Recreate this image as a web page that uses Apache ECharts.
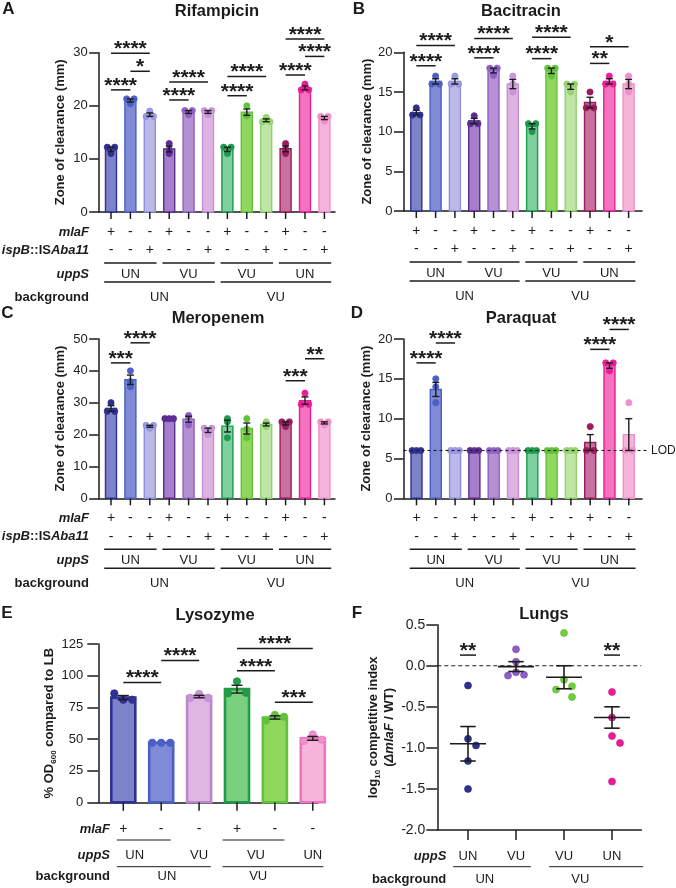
<!DOCTYPE html>
<html><head><meta charset="utf-8">
<script src="https://cdn.jsdelivr.net/npm/echarts@6/dist/echarts.min.js"></script>
<style>html,body{margin:0;padding:0;background:#fff}#c{width:676px;height:888px}</style>
</head><body><div id="c"></div>
<script>
// ================= DATA =================
const mlaFRow = ['+','-','-','+','-','-','+','-','-','+','-','-'];
const ispBRow = ['-','-','+','-','-','+','-','-','+','-','-','+'];
const uppSRow = ['UN','VU','VU','UN'];
const backgroundRow = ['UN','VU'];

const rifampicinTicks = [0,10,20,30];
const rifampicinDots = [[12.2,12.2,11],[21.3,21.3,20.4],[19,18,18],[12.9,11.7,11],[19.1,19.1,18.3],[19.1,19.1,18.3],
  [12.2,12.2,11],[20,18.3,18.1],[17.8,17,17],[12.9,11.8,11],[24.1,23,23],[18,18,17.1]];
const rifampicinSig = [[0,1,23.0,'****'],[0,2,29.9,'****'],[1,2,26.5,'*'],[3,4,21.1,'****'],[3,5,24.5,'****'],
  [6,7,21.9,'****'],[6,8,25.5,'****'],[9,10,25.8,'****'],[9,11,32.6,'****'],[10,11,29.3,'****']];

const bacitracinTicks = [0,5,10,15,20];
const bacitracinDots = [[13,12.1,12.1],[17,16,16],[17,16,16],[12,11,11],[18,18,17.1],[17,16,15],
  [11,11,10],[18,18,17],[16,16,15],[15,13,13],[17,16,16],[17,16,15]];
const bacitracinSig = [[0,1,18.3,'****'],[0,2,20.85,'****'],[3,4,19.3,'****'],[3,5,21.75,'****'],
  [6,7,19.2,'****'],[6,8,21.9,'****'],[9,10,18.6,'**'],[9,11,20.7,'*']];

const meropenemTicks = [0,10,20,30,40,50];
const meropenemDots = [[30,27.3,27.3],[40,36.6,35],[22.9,22.9,22],[25,25,25],[26,25.5,23],[22,22,20],
  [25,24,19],[25,21.7,19],[24,23,22.5],[24,24,22.5],[33,29.5,29.5],[24,24,23]];
const meropenemSig = [[0,1,42.5,'***'],[1,2,48.8,'****'],[9,10,36.9,'***'],[10,11,43.8,'**']];

const paraquatTicks = [0,5,10,15,20];
const paraquatDots = [[6,6,6],[15,14,12],[6,6,6],[6,6,6],[6,6,6],[6,6,6],
  [6,6,6],[6,6,6],[6,6,6],[9,6,6],[17,17,16],[12,6,6]];
const paraquatSig = [[0,1,17.0,'****'],[1,2,19.5,'****'],[9,10,18.7,'****'],[10,11,21.2,'****']];
const paraquatLOD = 6;

const lysozymeTicks = [0,25,50,75,100,125];
const lysozymeMlaF = ['+','-','-','+','-','-'];
const lysozymeUppS = ['UN','VU','VU','UN'];
const lysozymeBackground = ['UN','VU'];
const lysozymeDots = [[86,81,81],[47,47,47],[82.5,85.5,82.5],[86,95.5,86.5],[64.5,69,67.5],[48.5,53.5,49.5]];
const lysozymeSig = [[0,1,94.6,'****'],[1,2,112,'****'],[3,4,103.8,'****'],[3,5,121.4,'****'],[4,5,79.1,'***']];

const lungsTicks = [-2.0,-1.5,-1.0,-0.5,0.0,0.5];
const lungsUppS = ['UN','VU','VU','UN'];
const lungsBackground = ['UN','VU'];
const lungsDots = [[-0.24,-0.89,-0.97,-1.16,-1.50],[0.20,0.05,-0.08,-0.11,-0.12],
  [0.40,-0.17,-0.25,-0.29,-0.38],[-0.32,-0.63,-0.855,-0.94,-1.41]];
const lungsMean = [-0.95,-0.01,-0.14,-0.63];
const lungsSem = [0.21,0.06,0.14,0.13];
const lungsSig = [[0,0.13,'**'],[3,0.13,'**']];
const lungsBaseline = 0;

// ================= STYLE / LAYOUT =================
const FONT = '"Liberation Sans", Arial, Helvetica, sans-serif';
const INK = '#1c1c1c';
const PAL12 = [
  ['#7d83c9','#2e3192','#2e3192'],['#7f8bd6','#4b5fc4','#4b5fc4'],['#bcb9e8','#8e8fdc','#9d9be3'],
  ['#a67ecb','#5b2c91','#5b2c91'],['#b591d4','#8f5fc6','#8f5fc6'],['#ddb4e1','#c38fd6','#ca96dc'],
  ['#7fd09f','#1d9a4e','#1d9a4e'],['#8fd75d','#62c23a','#62c23a'],['#c0e6a6','#8fd26b','#96d672'],
  ['#c8719f','#9b1c5e','#9b1c5e'],['#f573be','#ec1c99','#ec1c99'],['#f6b4da','#ef8fcb','#ef8fcb']];
const PAL6 = [['#7d83c9','#2e3192','#2e3192'],['#7f8bd6','#4b5fc4','#4b5fc4'],['#dfb6e2','#b887cc','#c994dc'],
  ['#79d07f','#229a49','#229a49'],['#8fd75d','#62c23a','#62c23a'],['#f6b4da','#ec74c0','#ef8fcb']];
const PALF = [['#2e3192','#232577'],['#8f5fc6','#7447a8'],['#6fcf3c','#55b328'],['#ec1c99','#c9117f']];

const LAY = [
  {axisX:98.7, c0:111,   sp:19.4, endX:335,   yTop:52.7, yBot:212,   barW:11, bw:1.4, dotR:3.1, cap:3.5, tickLen:9.5, margin:11, nameGap:32, fs:13},
  {axisX:403.5,c0:416.3, sp:19.3, endX:642,   yTop:52.3, yBot:211,   barW:11, bw:1.4, dotR:3.1, cap:3.5, tickLen:9.5, margin:11, nameGap:30, fs:13},
  {axisX:98.7, c0:111,   sp:19.4, endX:335,   yTop:339,  yBot:498.3, barW:11, bw:1.4, dotR:3.1, cap:3.5, tickLen:9.5, margin:11, nameGap:32, fs:13},
  {axisX:403.5,c0:416.5, sp:19.3, endX:642,   yTop:339,  yBot:498.3, barW:11, bw:1.4, dotR:3.1, cap:3.5, tickLen:9.5, margin:11, nameGap:31, fs:13},
  {axisX:98.3, c0:123.3, sp:37.9, endX:318,   yTop:644,  yBot:802.3, barW:24, bw:2.6, dotR:3.7, cap:5.5, tickLen:11,  margin:15, nameGap:41, fs:13},
  {axisX:437.3,c0:468,   sp:48,   endX:641.3, yTop:624.7,yBot:830,   barW:0,  bw:0,   dotR:3.5, cap:7.7, tickLen:11,  margin:12, nameGap:40, fs:14}
];

const mean = a => a.reduce((s,v)=>s+v,0)/a.length;
const sem = a => { const m=mean(a); return Math.sqrt(a.reduce((s,v)=>s+(v-m)*(v-m),0)/(a.length-1))/Math.sqrt(a.length); };

const ln=(x1,y1,x2,y2,w,dash)=>({type:'line',shape:{x1,y1,x2,y2},style:{stroke:INK,lineWidth:w||1.4,lineDash:dash||null}});
const tx=(text,x,y,size,weight,align)=>({type:'text',style:{text,x,y,align:align||'center',verticalAlign:'middle',
  fontSize:size,fontWeight:weight||'normal',fontFamily:FONT,fill:INK}});

function clusterOffsets(vals, spacing, pair){
  const off=vals.map(()=>0), used=vals.map(()=>false);
  for(let i=0;i<vals.length;i++){ if(used[i]) continue; const g=[i]; used[i]=true;
    for(let j=i+1;j<vals.length;j++) if(!used[j] && Math.abs(vals[j]-vals[i])<1e-6){g.push(j);used[j]=true;}
    const n=g.length; g.forEach((id,q)=>{ off[id]= n===1?0:(n===2?(q===0?-pair:pair):(q-(n-1)/2)*spacing); });
  }
  return off;
}
const rowOffsets=(vals,spacing)=>vals.map((v,q)=>(q-(vals.length-1)/2)*spacing);
function zigzagOffsets(vals, ppu, minGap, w){
  const idx=vals.map((v,i)=>i).sort((a,b)=>vals[b]-vals[a]); const off=vals.map(()=>0); let prev=null;
  idx.forEach(i=>{ if(prev!==null && (vals[prev]-vals[i])*ppu<minGap) off[i]=off[prev]<=0?w:-w; else off[i]=0; prev=i; });
  return off;
}

const grids=[], xAxes=[], yAxes=[], series=[], graphics=[];

function addAxes(pi, ticks, name, rich){
  const L=LAY[pi];
  grids.push({left:L.axisX, top:L.yTop, width:L.endX-L.axisX, height:L.yBot-L.yTop});
  xAxes.push({type:'value', gridIndex:pi, min:(L.axisX-L.c0)/L.sp, max:(L.endX-L.c0)/L.sp,
    axisLine:{show:true,onZero:false,lineStyle:{color:INK,width:1.5}}, axisTick:{show:false}, axisLabel:{show:false}, splitLine:{show:false}});
  yAxes.push({type:'value', gridIndex:pi, min:ticks[0], max:ticks[ticks.length-1], interval:ticks[1]-ticks[0],
    axisLine:{show:true,onZero:false,lineStyle:{color:INK,width:1.5}},
    axisTick:{show:true,length:L.tickLen,lineStyle:{color:INK,width:1.5}},
    axisLabel:{fontSize:L.fs,color:'#222',fontFamily:FONT,margin:L.margin,
      formatter: pi===5 ? (v=>v.toFixed(1)) : (v=>String(v))},
    splitLine:{show:false},
    name:name, nameLocation:'middle', nameGap:L.nameGap,
    nameTextStyle:{fontFamily:FONT,fontSize:13,fontWeight:'bold',color:INK,rich:rich||{}}});
}

function barPanel(pi, dots, pal, sig, offsFn){
  const L=LAY[pi]; const base=0;
  const means=dots.map(mean), sems=dots.map(sem);
  series.push({type:'custom', xAxisIndex:pi, yAxisIndex:pi, clip:false, silent:true, z:2,
    data:means.map((m,k)=>[k,m]),
    renderItem:(p,api)=>{ const k=api.value(0), m=api.value(1); const b=api.coord([k,base]), t=api.coord([k,m]);
      return {type:'rect', shape:{x:b[0]-L.barW/2, y:t[1], width:L.barW, height:b[1]-t[1]},
        style:{fill:pal[k][0], stroke:pal[k][1], lineWidth:L.bw}}; }});
  const dd=[];
  dots.forEach((arr,k)=>{ const off=offsFn(arr); arr.forEach((v,q)=>dd.push([k,v,off[q]])); });
  series.push({type:'custom', xAxisIndex:pi, yAxisIndex:pi, clip:false, silent:true, z:3, data:dd,
    renderItem:(p,api)=>{ const k=api.value(0); const c=api.coord([k,api.value(1)]);
      return {type:'circle', shape:{cx:c[0]+api.value(2), cy:c[1], r:L.dotR},
        style:{fill:pal[k][2], stroke:pal[k][1], lineWidth:0.8}}; }});
  series.push({type:'custom', xAxisIndex:pi, yAxisIndex:pi, clip:false, silent:true, z:4,
    data:means.map((m,k)=>[k,m,sems[k]]),
    renderItem:(p,api)=>{ const k=api.value(0), m=api.value(1), s=api.value(2);
      if(!(s>1e-9)) return {type:'group',children:[]};
      const t=api.coord([k,m+s]), b=api.coord([k,m-s]);
      return {type:'group', children:[ln(t[0],t[1],b[0],b[1],1.4), ln(t[0]-L.cap,t[1],t[0]+L.cap,t[1],1.4), ln(b[0]-L.cap,b[1],b[0]+L.cap,b[1],1.4)]}; }});
  series.push({type:'custom', xAxisIndex:pi, yAxisIndex:pi, clip:false, silent:true, z:5,
    data:sig.map(s=>[s[0],s[1],s[2]]),
    renderItem:(p,api)=>{ const a=api.coord([api.value(0),api.value(2)]), b=api.coord([api.value(1),api.value(2)]);
      return {type:'group', children:[ln(a[0],a[1],b[0],a[1],1.5), tx(sig[p.dataIndex][3],(a[0]+b[0])/2,a[1]-4,21,'bold')]}; }});
}

function annot12(pi){
  series.push({type:'custom', xAxisIndex:pi, yAxisIndex:pi, clip:false, silent:true, z:5, data:[[0,0]],
    renderItem:(p,api)=>{ const X=k=>api.coord([k,0])[0]; const Y=api.coord([0,0])[1]; const ch=[];
      for(let k=0;k<12;k++){ ch.push(ln(X(k),Y,X(k),Y+7,1.5)); ch.push(tx(mlaFRow[k],X(k),Y+20,14)); ch.push(tx(ispBRow[k],X(k),Y+38.5,14)); }
      uppSRow.forEach((t,g)=>{ ch.push(ln(X(3*g-0.35),Y+51,X(3*g+2.35),Y+51,1.5)); ch.push(tx(t,X(3*g+1),Y+62,13)); });
      backgroundRow.forEach((t,h)=>{ ch.push(ln(X(6*h-0.35),Y+70,X(6*h+5.35),Y+70,1.5)); ch.push(tx(t,X(6*h+2.5),Y+85.5,13)); });
      return {type:'group', children:ch}; }});
}

const zoneName='Zone of clearance (mm)';
// A
addAxes(0, rifampicinTicks, zoneName);
barPanel(0, rifampicinDots, PAL12, rifampicinSig, v=>clusterOffsets(v,4.3,3.7));
annot12(0);
// B
addAxes(1, bacitracinTicks, zoneName);
barPanel(1, bacitracinDots, PAL12, bacitracinSig, v=>clusterOffsets(v,4.3,3.7));
annot12(1);
// C
addAxes(2, meropenemTicks, zoneName);
barPanel(2, meropenemDots, PAL12, meropenemSig, v=>clusterOffsets(v,4.3,3.7));
annot12(2);
// D
addAxes(3, paraquatTicks, zoneName);
barPanel(3, paraquatDots, PAL12, paraquatSig, v=>clusterOffsets(v,4.3,3.7));
annot12(3);
series.push({type:'custom', xAxisIndex:3, yAxisIndex:3, clip:false, silent:true, z:4, data:[[0,paraquatLOD]],
  renderItem:(p,api)=>{ const a=api.coord([xAxes[3].min,api.value(1)]), b=api.coord([xAxes[3].max,api.value(1)]);
    return {type:'group', children:[ln(a[0],a[1],b[0]+6,a[1],1.1,[3,3]), tx('LOD',b[0]+9,a[1],12,'normal','left')]}; }});

// E
addAxes(4, lysozymeTicks, '{b|% OD}{s|600}{b| compared to LB}', {
  b:{fontFamily:FONT,fontSize:13,fontWeight:'bold',color:INK,lineHeight:16},
  s:{fontFamily:FONT,fontSize:8,fontWeight:'bold',color:INK,lineHeight:8,verticalAlign:'bottom'}});
barPanel(4, lysozymeDots, PAL6, lysozymeSig, v=>rowOffsets(v,9));
series.push({type:'custom', xAxisIndex:4, yAxisIndex:4, clip:false, silent:true, z:5, data:[[0,0]],
  renderItem:(p,api)=>{ const X=k=>api.coord([k,0])[0]; const Y=api.coord([0,0])[1]; const ch=[];
    const uppPos=[0.3,2,3.5,5], bgPos=[1.15,3.56], mlaSpan=[[-0.17,1.25],[2.62,4.25]], bgSpan=[[-0.17,2.31],[2.62,5.28]];
    lysozymeMlaF.forEach((t,k)=>{ ch.push(ln(X(k),Y,X(k),Y+8.5,1.5)); ch.push(tx(t,X(k),Y+27,14)); });
    mlaSpan.forEach(s=>ch.push(ln(X(s[0]),Y+37.7,X(s[1]),Y+37.7,1)));
    lysozymeUppS.forEach((t,g)=>ch.push(tx(t,X(uppPos[g]),Y+52.7,13)));
    bgSpan.forEach(s=>ch.push(ln(X(s[0]),Y+64.4,X(s[1]),Y+64.4,1)));
    lysozymeBackground.forEach((t,h)=>ch.push(tx(t,X(bgPos[h]),Y+74.4,13)));
    return {type:'group', children:ch}; }});

// F
addAxes(5, lungsTicks, '{b|log}{s|10}{b| competitive index}\n{b|(}{bi|ΔmlaF}{b| / WT)}', {
  b:{fontFamily:FONT,fontSize:13,fontWeight:'bold',color:INK,lineHeight:16},
  bi:{fontFamily:FONT,fontSize:13,fontWeight:'bold',fontStyle:'italic',color:INK,lineHeight:16},
  s:{fontFamily:FONT,fontSize:8,fontWeight:'bold',color:INK,lineHeight:8,verticalAlign:'bottom'}});
(function(){
  const L=LAY[5]; const ppu=(L.yBot-L.yTop)/(lungsTicks[lungsTicks.length-1]-lungsTicks[0]);
  series.push({type:'custom', xAxisIndex:5, yAxisIndex:5, clip:false, silent:true, z:2, data:[[0,lungsBaseline]],
    renderItem:(p,api)=>{ const a=api.coord([xAxes[5].min,api.value(1)]), b=api.coord([xAxes[5].max,api.value(1)]);
      return ln(a[0],a[1],b[0],b[1],1.1,[4,3]); }});
  const dd=[];
  lungsDots.forEach((arr,k)=>{ const off=zigzagOffsets(arr,ppu,7.5,8); arr.forEach((v,q)=>dd.push([k,v,off[q]])); });
  series.push({type:'custom', xAxisIndex:5, yAxisIndex:5, clip:false, silent:true, z:3, data:dd,
    renderItem:(p,api)=>{ const k=api.value(0); const c=api.coord([k,api.value(1)]);
      return {type:'circle', shape:{cx:c[0]+api.value(2), cy:c[1], r:L.dotR}, style:{fill:PALF[k][0], stroke:PALF[k][1], lineWidth:0.6}}; }});
  series.push({type:'custom', xAxisIndex:5, yAxisIndex:5, clip:false, silent:true, z:4,
    data:lungsMean.map((m,k)=>[k,m,lungsSem[k]]),
    renderItem:(p,api)=>{ const k=api.value(0), m=api.value(1), s=api.value(2);
      const c=api.coord([k,m]), t=api.coord([k,m+s]), b=api.coord([k,m-s]);
      return {type:'group', children:[ln(c[0]-18,c[1],c[0]+18,c[1],1.6), ln(t[0],t[1],b[0],b[1],1.6),
        ln(t[0]-L.cap,t[1],t[0]+L.cap,t[1],1.6), ln(b[0]-L.cap,b[1],b[0]+L.cap,b[1],1.6)]}; }});
  series.push({type:'custom', xAxisIndex:5, yAxisIndex:5, clip:false, silent:true, z:5,
    data:lungsSig.map(s=>[s[0],s[1]]),
    renderItem:(p,api)=>{ const c=api.coord([api.value(0),api.value(1)]);
      return {type:'group', children:[ln(c[0]-8,c[1],c[0]+8,c[1],1.5), tx(lungsSig[p.dataIndex][2],c[0],c[1]-4,21,'bold')]}; }});
  series.push({type:'custom', xAxisIndex:5, yAxisIndex:5, clip:false, silent:true, z:5, data:[[0,lungsTicks[0]]],
    renderItem:(p,api)=>{ const y0=api.value(1); const X=k=>api.coord([k,y0])[0]; const Y=api.coord([0,y0])[1]; const ch=[];
      const bgSpan=[[-0.31,1.31],[1.69,3.65]], bgPos=[0.35,2.34];
      lungsUppS.forEach((t,k)=>{ ch.push(ln(X(k),Y,X(k),Y+10,1.5)); ch.push(tx(t,X(k),Y+26.7,13)); });
      bgSpan.forEach(s=>ch.push(ln(X(s[0]),Y+36.7,X(s[1]),Y+36.7,1)));
      lungsBackground.forEach((t,h)=>ch.push(tx(t,X(bgPos[h]),Y+49.3,13)));
      return {type:'group', children:ch}; }});
})();

// ================= GRAPHIC TEXTS =================
const gtext=(text,x,y,size,weight,align,rich)=>({type:'text', x, y, silent:true,
  style:{text, fontSize:size, fontWeight:weight||'bold', fontFamily:FONT, fill:INK, align:align||'center', verticalAlign:'middle', rich:rich}});
[['Rifampicin',217,11.5],['Bacitracin',521,11],['Meropenem',218,318],['Paraquat',521,318],['Lysozyme',215,615],['Lungs',544,614]]
  .forEach(t=>graphics.push(gtext(t[0],t[1],t[2],16.5)));
[['A',8.5,9.5],['B',359,9.5],['C',7.5,313.5],['D',357,313],['E',7,613],['F',357,613]]
  .forEach(t=>graphics.push(gtext(t[0],t[1],t[2],17)));
const RICH={bi:{fontFamily:FONT,fontSize:13,fontWeight:'bold',fontStyle:'italic',fill:INK},b:{fontFamily:FONT,fontSize:13,fontWeight:'bold',fill:INK}};
function rowNames(xr, yBot, rows){ rows.forEach(r=>graphics.push(gtext(r[0],xr,yBot+r[1],13,'bold','right',RICH))); }
rowNames(89, LAY[0].yBot, [['{bi|mlaF}',20],['{bi|ispB}{b|::IS}{bi|Aba11}',38.5],['{bi|uppS}',62],['{b|background}',85.5]]);
rowNames(89, LAY[2].yBot, [['{bi|mlaF}',20],['{bi|ispB}{b|::IS}{bi|Aba11}',38.5],['{bi|uppS}',62],['{b|background}',85.5]]);
rowNames(110, LAY[4].yBot, [['{bi|mlaF}',27],['{bi|uppS}',52.7],['{b|background}',74.4]]);
rowNames(446.3, LAY[5].yBot, [['{bi|uppS}',26.7],['{b|background}',49.3]]);

const chart = echarts.init(document.getElementById('c'), null, {renderer:'canvas', width:676, height:888});
chart.setOption({animation:false, backgroundColor:'#fff', grid:grids, xAxis:xAxes, yAxis:yAxes, series:series, graphic:graphics});
</script></body></html>
